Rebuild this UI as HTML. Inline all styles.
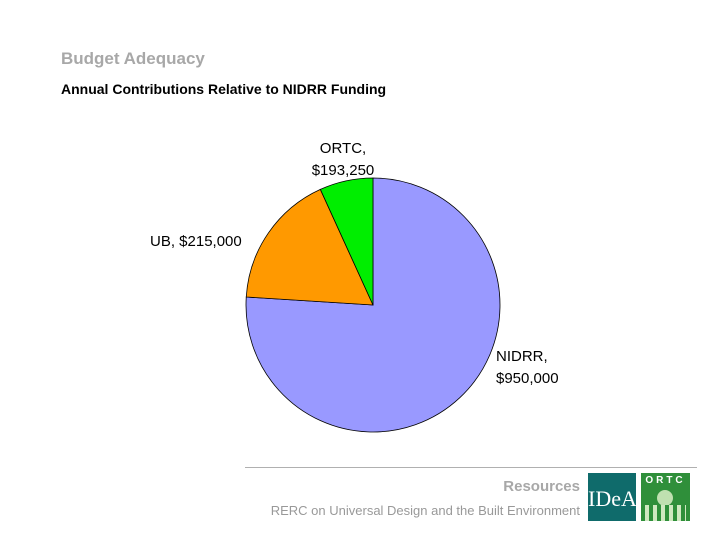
<!DOCTYPE html>
<html><head><meta charset="utf-8">
<style>
html,body{margin:0;padding:0;background:#fff;}
body{width:720px;height:540px;position:relative;overflow:hidden;font-family:"Liberation Sans",sans-serif;}
.t{position:absolute;white-space:nowrap;}
</style></head>
<body>
<div class="t" style="left:61px;top:49px;font-size:17px;font-weight:bold;color:#a8a8a8;">Budget Adequacy</div>
<div class="t" style="left:61px;top:81px;font-size:14px;font-weight:bold;color:#000;">Annual Contributions Relative to NIDRR Funding</div>
<svg id="chart" width="720" height="540" style="position:absolute;left:0;top:0;"></svg>
<div style="position:absolute;left:245px;top:467px;width:452px;height:1px;background:#b0b0b0;"></div>
<div class="t" style="right:140px;top:478px;font-size:15px;font-weight:bold;color:#a8a8a8;">Resources</div>
<div class="t" style="right:140px;top:503px;font-size:13px;color:#999;">RERC on Universal Design and the Built Environment</div>
<div style="position:absolute;left:588px;top:473px;width:48px;height:48px;background:#0f6b6b;color:#fff;font-family:'Liberation Serif',serif;font-size:22px;line-height:52px;text-align:center;overflow:hidden;">IDeA</div>
<div style="position:absolute;left:641px;top:473px;width:49px;height:48px;background:#2f8f3a;overflow:hidden;">
<div style="color:#fff;font-size:10px;font-weight:bold;text-align:center;letter-spacing:3px;margin-top:2px;">ORTC</div>
<div style="position:absolute;left:16px;top:17px;width:16px;height:16px;border-radius:50%;background:#bfe0b0;"></div>
<div style="position:absolute;left:4px;top:32px;width:41px;height:16px;background:repeating-linear-gradient(90deg,#cfe8c0 0 4px,#2f8f3a 4px 8px);"></div>
</div>
<script>
const categories=["NIDRR","UB","ORTC"];
const values=[950000,215000,85000];
const labels=["NIDRR,\n$950,000","UB, $215,000","ORTC,\n$193,250"];
const colors=["#9999ff","#ff9900","#00ee00"];
const svg=document.getElementById('chart');
const NS="http://www.w3.org/2000/svg";
const cx=373,cy=305,r=127;
const total=values.reduce((a,b)=>a+b,0);
function pt(a,rr){return [cx+rr*Math.sin(a),cy-rr*Math.cos(a)];}
let a0=0;
const labelPos=[[496,361,"start"],[150,246,"start"],[343,153,"middle"]];
values.forEach((v,i)=>{
  const a1=a0+v/total*2*Math.PI;
  const p0=pt(a0,r),p1=pt(a1,r);
  const large=(a1-a0)>Math.PI?1:0;
  const path=document.createElementNS(NS,'path');
  path.setAttribute('d',`M${cx},${cy} L${p0[0]},${p0[1]} A${r},${r} 0 ${large} 1 ${p1[0]},${p1[1]} Z`);
  path.setAttribute('fill',colors[i]);
  path.setAttribute('stroke','#000');
  path.setAttribute('stroke-width','0.8');
  
  
  svg.appendChild(path);
  const lp=labelPos[i];
  const t=document.createElementNS(NS,'text');
  t.setAttribute('x',lp[0]);t.setAttribute('y',lp[1]);
  t.setAttribute('text-anchor',lp[2]);
  t.setAttribute('font-family','Liberation Sans, sans-serif');
  t.setAttribute('font-size','15');
  
  
  labels[i].split('\n').forEach((line,j)=>{
    const ts=document.createElementNS(NS,'tspan');
    ts.setAttribute('x',lp[0]);ts.setAttribute('dy',j?'22':'0');
    ts.textContent=line;t.appendChild(ts);
  });
  svg.appendChild(t);
  a0=a1;
});
</script>
</body></html>
